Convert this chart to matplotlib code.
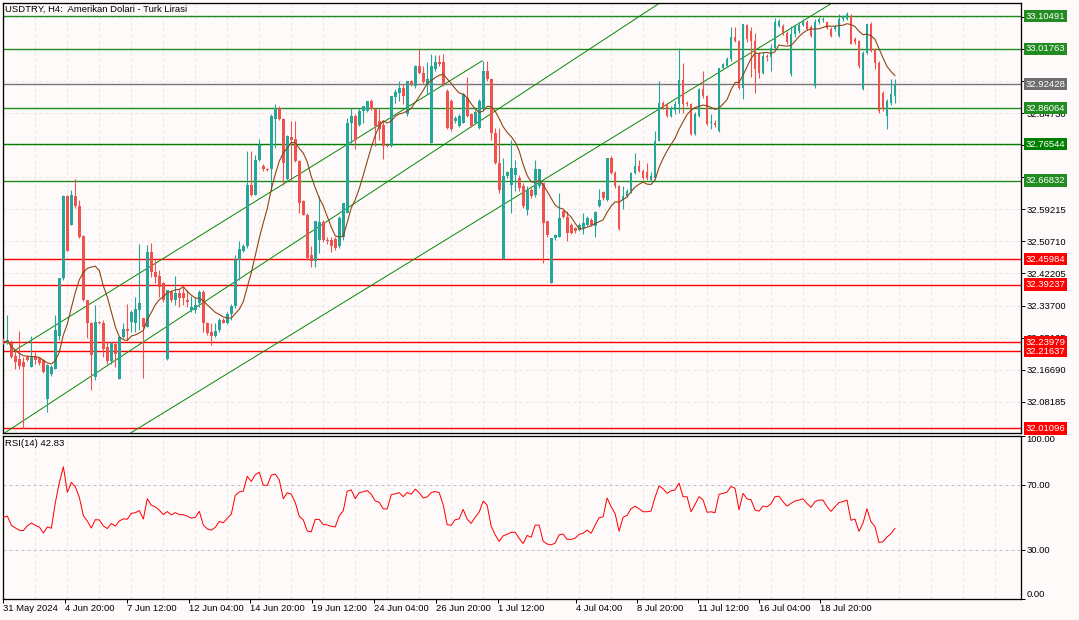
import numpy as np
import pandas as pd
import matplotlib
matplotlib.use("Agg")
import matplotlib.pyplot as plt
import matplotlib.transforms as mtransforms
from matplotlib.patches import Rectangle
from matplotlib.collections import PatchCollection

# ---------------- data ----------------
chart_title = "USDTRY, H4:  Amerikan Dolari - Turk Lirasi"

opens = [32.242, 32.238, 32.238, 32.203, 32.196, 32.188, 32.201, 32.175, 32.203, 32.197,
         32.192, 32.088, 32.155, 32.170, 32.256, 32.410, 32.627, 32.551, 32.627, 32.602,
         32.522, 32.352, 32.290, 32.148, 32.294, 32.290, 32.228, 32.190, 32.235, 32.143,
         32.254, 32.274, 32.294, 32.292, 32.325, 32.303, 32.281, 32.480, 32.427, 32.416,
         32.396, 32.194, 32.374, 32.352, 32.370, 32.371, 32.352, 32.325, 32.325, 32.343,
         32.374, 32.292, 32.268, 32.256, 32.272, 32.300, 32.292, 32.315, 32.335, 32.458,
         32.481, 32.494, 32.656, 32.631, 32.724, 32.708, 32.699, 32.698, 32.831, 32.862,
         32.833, 32.673, 32.784, 32.779, 32.720, 32.613, 32.578, 32.471, 32.454, 32.511,
         32.558, 32.511, 32.511, 32.513, 32.494, 32.520, 32.582, 32.822, 32.840, 32.817,
         32.853, 32.853, 32.880, 32.857, 32.826, 32.815, 32.762, 32.760, 32.891, 32.902,
         32.915, 32.844, 32.933, 32.919, 32.973, 32.955, 32.924, 32.769, 32.964, 32.982,
         32.982, 32.906, 32.880, 32.826, 32.813, 32.822, 32.888, 32.844, 32.822, 32.809,
         32.857, 32.959, 32.937, 32.795, 32.715, 32.460, 32.681, 32.658, 32.684, 32.676,
         32.653, 32.591, 32.644, 32.631, 32.653, 32.662, 32.560, 32.396, 32.516, 32.520,
         32.587, 32.573, 32.551, 32.543, 32.538, 32.542, 32.551, 32.565, 32.547, 32.600,
         32.637, 32.618, 32.729, 32.689, 32.653, 32.618, 32.627, 32.640, 32.689, 32.707,
         32.693, 32.690, 32.670, 32.676, 32.773, 32.875, 32.871, 32.840, 32.855, 32.871,
         32.934, 32.875, 32.872, 32.791, 32.840, 32.911, 32.893, 32.821, 32.822, 32.800,
         32.968, 32.973, 32.990, 33.050, 33.039, 32.915, 33.081, 33.066, 33.039, 33.004,
         32.955, 33.000, 32.995, 33.021, 33.079, 33.079, 33.061, 32.950, 33.057, 33.065,
         33.082, 33.090, 33.075, 32.919, 33.088, 33.093, 33.088, 33.070, 33.070, 33.052,
         33.097, 33.098, 33.106, 33.043, 33.039, 32.910, 33.008, 33.083, 33.017, 32.981,
         32.902, 32.840, 32.875, 32.893]
highs = [32.250, 32.312, 32.245, 32.219, 32.269, 32.201, 32.205, 32.256, 32.214, 32.200,
         32.195, 32.183, 32.179, 32.312, 32.410, 32.631, 32.631, 32.643, 32.673, 32.618,
         32.525, 32.352, 32.294, 32.339, 32.297, 32.299, 32.241, 32.241, 32.241, 32.254,
         32.290, 32.341, 32.325, 32.361, 32.501, 32.303, 32.498, 32.503, 32.458, 32.432,
         32.400, 32.378, 32.378, 32.416, 32.380, 32.387, 32.378, 32.362, 32.361, 32.378,
         32.378, 32.294, 32.290, 32.290, 32.305, 32.303, 32.320, 32.340, 32.470, 32.507,
         32.500, 32.747, 32.747, 32.737, 32.778, 32.712, 32.702, 32.844, 32.871, 32.865,
         32.835, 32.790, 32.826, 32.826, 32.722, 32.618, 32.582, 32.494, 32.560, 32.627,
         32.565, 32.520, 32.520, 32.520, 32.575, 32.609, 32.835, 32.862, 32.844, 32.860,
         32.866, 32.880, 32.884, 32.861, 32.857, 32.826, 32.765, 32.893, 32.910, 32.933,
         32.924, 32.933, 32.936, 32.975, 33.017, 32.973, 32.982, 33.004, 33.001, 33.001,
         33.004, 32.910, 32.884, 32.840, 32.845, 32.900, 32.942, 32.848, 32.855, 32.884,
         32.986, 32.986, 32.940, 32.808, 32.808, 32.729, 32.695, 32.777, 32.724, 32.684,
         32.662, 32.653, 32.648, 32.724, 32.700, 32.662, 32.562, 32.516, 32.528, 32.635,
         32.590, 32.587, 32.555, 32.546, 32.555, 32.582, 32.575, 32.570, 32.587, 32.645,
         32.642, 32.729, 32.733, 32.693, 32.656, 32.653, 32.645, 32.692, 32.742, 32.724,
         32.698, 32.715, 32.690, 32.800, 32.933, 32.880, 32.875, 32.866, 32.880, 33.021,
         32.981, 32.880, 32.875, 32.850, 32.913, 32.959, 32.896, 32.844, 32.830, 32.968,
         32.980, 32.995, 33.075, 33.075, 33.042, 33.085, 33.085, 33.075, 33.060, 33.010,
         33.010, 33.005, 33.030, 33.100, 33.097, 33.085, 33.065, 33.078, 33.080, 33.090,
         33.097, 33.095, 33.080, 33.098, 33.102, 33.103, 33.092, 33.075, 33.080, 33.110,
         33.108, 33.115, 33.110, 33.048, 33.042, 33.012, 33.085, 33.088, 33.020, 32.985,
         32.905, 32.885, 32.937, 32.939]
lows = [32.236, 32.235, 32.197, 32.170, 32.170, 32.013, 32.189, 32.175, 32.183, 32.180,
        32.158, 32.055, 32.150, 32.170, 32.245, 32.405, 32.483, 32.551, 32.596, 32.516,
        32.350, 32.250, 32.112, 32.139, 32.287, 32.201, 32.183, 32.183, 32.174, 32.141,
        32.250, 32.245, 32.268, 32.268, 32.272, 32.145, 32.281, 32.414, 32.396, 32.361,
        32.347, 32.192, 32.347, 32.339, 32.334, 32.339, 32.334, 32.321, 32.316, 32.334,
        32.268, 32.259, 32.232, 32.254, 32.268, 32.290, 32.288, 32.300, 32.330, 32.405,
        32.478, 32.489, 32.627, 32.631, 32.720, 32.695, 32.694, 32.640, 32.755, 32.828,
        32.658, 32.671, 32.671, 32.718, 32.582, 32.578, 32.458, 32.440, 32.440, 32.476,
        32.505, 32.500, 32.480, 32.485, 32.490, 32.510, 32.582, 32.768, 32.751, 32.812,
        32.822, 32.850, 32.855, 32.760, 32.777, 32.725, 32.757, 32.757, 32.875, 32.880,
        32.871, 32.840, 32.920, 32.915, 32.950, 32.925, 32.897, 32.769, 32.960, 32.972,
        32.920, 32.805, 32.800, 32.822, 32.810, 32.820, 32.836, 32.810, 32.818, 32.805,
        32.855, 32.932, 32.777, 32.712, 32.636, 32.460, 32.676, 32.582, 32.640, 32.640,
        32.596, 32.578, 32.622, 32.626, 32.650, 32.449, 32.520, 32.396, 32.512, 32.518,
        32.570, 32.507, 32.526, 32.530, 32.535, 32.528, 32.548, 32.548, 32.520, 32.598,
        32.618, 32.615, 32.686, 32.650, 32.538, 32.592, 32.624, 32.636, 32.686, 32.690,
        32.672, 32.670, 32.665, 32.672, 32.773, 32.858, 32.836, 32.836, 32.845, 32.848,
        32.848, 32.866, 32.789, 32.789, 32.836, 32.888, 32.817, 32.804, 32.810, 32.798,
        32.965, 32.970, 32.985, 33.035, 32.910, 32.884, 33.035, 32.942, 32.900, 32.940,
        32.950, 32.985, 32.960, 33.015, 33.075, 33.055, 33.030, 32.947, 33.050, 33.060,
        33.078, 33.068, 33.050, 32.915, 33.085, 33.088, 33.070, 33.048, 33.065, 33.050,
        33.092, 33.095, 33.030, 33.030, 32.968, 32.908, 33.005, 33.010, 32.964, 32.848,
        32.853, 32.804, 32.870, 32.875]
closes = [32.240, 32.245, 32.201, 32.188, 32.176, 32.175, 32.192, 32.201, 32.192, 32.185,
          32.161, 32.179, 32.174, 32.272, 32.410, 32.627, 32.483, 32.631, 32.600, 32.520,
          32.352, 32.290, 32.206, 32.294, 32.290, 32.221, 32.190, 32.237, 32.208, 32.254,
          32.274, 32.270, 32.321, 32.327, 32.345, 32.281, 32.480, 32.427, 32.414, 32.387,
          32.352, 32.378, 32.352, 32.371, 32.356, 32.356, 32.347, 32.334, 32.339, 32.374,
          32.292, 32.265, 32.256, 32.270, 32.300, 32.292, 32.315, 32.335, 32.458, 32.487,
          32.494, 32.656, 32.631, 32.724, 32.764, 32.698, 32.696, 32.841, 32.862, 32.831,
          32.715, 32.786, 32.777, 32.720, 32.609, 32.578, 32.463, 32.454, 32.560, 32.558,
          32.510, 32.507, 32.494, 32.489, 32.569, 32.609, 32.822, 32.840, 32.777, 32.853,
          32.866, 32.880, 32.857, 32.813, 32.804, 32.760, 32.760, 32.893, 32.903, 32.915,
          32.893, 32.933, 32.924, 32.973, 32.955, 32.929, 32.937, 32.973, 32.982, 32.977,
          32.924, 32.808, 32.804, 32.835, 32.840, 32.897, 32.840, 32.813, 32.849, 32.880,
          32.959, 32.937, 32.795, 32.715, 32.644, 32.680, 32.690, 32.702, 32.702, 32.649,
          32.600, 32.644, 32.627, 32.698, 32.698, 32.556, 32.525, 32.516, 32.525, 32.569,
          32.573, 32.529, 32.529, 32.534, 32.551, 32.556, 32.569, 32.551, 32.584, 32.618,
          32.622, 32.729, 32.689, 32.653, 32.540, 32.627, 32.640, 32.689, 32.707, 32.693,
          32.676, 32.676, 32.680, 32.773, 32.875, 32.862, 32.840, 32.862, 32.871, 32.934,
          32.871, 32.871, 32.791, 32.844, 32.911, 32.893, 32.819, 32.822, 32.817, 32.968,
          32.977, 32.990, 33.048, 33.039, 32.915, 33.083, 33.044, 33.039, 32.964, 32.955,
          33.000, 32.995, 33.021, 33.088, 33.092, 33.061, 33.035, 33.057, 33.075, 33.082,
          33.092, 33.070, 33.052, 33.088, 33.098, 33.098, 33.072, 33.052, 33.075, 33.097,
          33.103, 33.110, 33.030, 33.035, 32.973, 33.008, 33.083, 33.012, 32.981, 32.853,
          32.857, 32.880, 32.897, 32.924]

green_levels = [33.10491, 33.01763, 32.86064, 32.76544, 32.66832]
red_levels = [32.45984, 32.39237, 32.23979, 32.21637, 32.01096]
bid_level = 32.92428
price_ticks = [32.08185, 32.16690, 32.25195, 32.33700, 32.42205, 32.50710, 32.59215,
               32.67720, 32.76225, 32.84730, 32.93235, 33.01740, 33.10245]
# tick labels fully covered by the level boxes in the reference
hidden_ticks = [32.76225, 33.01740, 33.10245]
time_labels = ["31 May 2024", "4 Jun 20:00", "7 Jun 12:00", "12 Jun 04:00", "14 Jun 20:00",
               "19 Jun 12:00", "24 Jun 04:00", "26 Jun 20:00", "1 Jul 12:00", "4 Jul 04:00",
               "8 Jul 20:00", "11 Jul 12:00", "16 Jul 04:00", "18 Jul 20:00"]
time_label_bars = [0, 15.4, 30.8, 46.3, 61.8, 77.3, 92.8, 108.2, 123.7, 143.3,
                   158.6, 173.8, 189.1, 204.3]
# analyst trend lines: (bar, price) start and end
trend_lines = [((1.8, 32.211), (119.75, 32.986)),
               ((-1.0, 31.990), (170.0, 33.180)),
               ((31.8, 31.999), (212.0, 33.170))]
rsi_period = 14
rsi_display = 42.83
ma_period = 10
rsi_ticks = [100, 70, 30, 0]

# ---------------- styling ----------------
W, H, DPI = 1079, 620, 100
BG = "#FFFAFA"
BULL = "#26A69A"
BEAR = "#EF5350"
FONT = "Liberation Sans"
FS = 6.8
PX = 72.0 / DPI  # points per pixel

plt.rcParams["font.family"] = [FONT, "DejaVu Sans"]

fig = plt.figure(figsize=(W / DPI, H / DPI), dpi=DPI, facecolor=BG)


def rect(l, t, r, b):
    return [l / W, 1 - b / H, (r - l) / W, (b - t) / H]


ax = fig.add_axes(rect(3, 3, 1021.3, 432.7), facecolor=BG)
ax2 = fig.add_axes(rect(3, 435.5, 1021.3, 599), facecolor=BG, sharex=ax)

n = len(closes)
x = np.arange(n)
o = np.array(opens); h = np.array(highs); l = np.array(lows); c = np.array(closes)
up = c >= o

# grid
grid_bars = np.arange(8, 260, 8)
for a in (ax, ax2):
    for gx in grid_bars:
        a.axvline(gx, color="#E8E4E4", lw=1 * PX, dashes=(3, 3), zorder=0)
for py in price_ticks:
    ax.axhline(py, color="#E8E4E4", lw=1 * PX, dashes=(3, 3), zorder=0)

# levels
for lv in green_levels:
    col = "#008000" if abs(lv - 32.76544) < 1e-6 else "#1F8B1F"
    ax.axhline(lv, color=col, lw=1.4 * PX, zorder=1)
for lv in red_levels:
    ax.axhline(lv, color="#FF0000", lw=1.4 * PX, zorder=1)
ax.axhline(bid_level, color="#777777", lw=1.4 * PX, zorder=1)

# trend lines
for (x0, y0), (x1, y1) in trend_lines:
    ax.plot([x0, x1], [y0, y1], color="#0A8A0A", lw=1 * PX, zorder=2)

# candles
cols = [BULL if u else BEAR for u in up]
ax.vlines(x, l, h, colors=cols, lw=1.1 * PX, zorder=3)
bw = 0.7
rects = []
for i in range(n):
    bot = min(o[i], c[i])
    hgt = max(abs(c[i] - o[i]), 0.0028)
    rects.append(Rectangle((x[i] - bw / 2, bot), bw, hgt))
ax.add_collection(PatchCollection(rects, facecolors=cols, edgecolors="none", zorder=4))

# moving average of closes
ma = pd.Series(closes).rolling(ma_period, min_periods=1).mean()
ax.plot(x, ma, color="#8B4513", lw=1.1 * PX, zorder=5)

ax.set_xlim(-0.1, 254.6)
ax.set_ylim(31.9998, 33.1394)

# RSI (Wilder) of closes; averages seeded neutral at the window start
d = np.diff(c)
seed = np.mean(np.abs(d[:rsi_period])) / 2
ag, al = seed, seed
rsi = [50.0]
for dv in d:
    ag = (ag * (rsi_period - 1) + max(dv, 0)) / rsi_period
    al = (al * (rsi_period - 1) + max(-dv, 0)) / rsi_period
    rsi.append(100 - 100 / (1 + ag / al))
ax2.plot(x, rsi, color="#FF0000", lw=1 * PX, zorder=3)
for lv in (70, 30):
    ax2.axhline(lv, color="#C0C0C0", lw=1 * PX, dashes=(3, 3), zorder=1)
ax2.set_ylim(0, 100)

# spines
for a in (ax, ax2):
    for sp in a.spines.values():
        sp.set_color("black")
        sp.set_linewidth(1.3 * PX)

# y ticks main
ax.yaxis.tick_right()
ax.set_yticks(price_ticks)
ax.set_yticklabels(["" if any(abs(v - hv) < 1e-6 for hv in hidden_ticks) else f"{v:.5f}"
                    for v in price_ticks])
ax.tick_params(axis="y", direction="out", length=4 * PX, width=1 * PX, pad=1,
               labelsize=FS, colors="black")
ax.tick_params(axis="x", bottom=False, labelbottom=False)

# y ticks rsi
ax2.yaxis.tick_right()
ax2.set_yticks(rsi_ticks)
ax2.set_yticklabels([f"{v:.2f}" for v in rsi_ticks])
ax2.tick_params(axis="y", direction="out", length=4 * PX, width=1 * PX, pad=1,
                labelsize=FS, colors="black")
for lab in ax2.get_yticklabels():
    if lab.get_text() == "100.00":
        lab.set_va("top")
    elif lab.get_text() == "0.00":
        lab.set_va("bottom")

# x ticks
ax2.set_xticks(time_label_bars)
ax2.set_xticklabels(time_labels, ha="left")
ax2.tick_params(axis="x", direction="out", length=4 * PX, width=1 * PX, pad=0.5,
                labelsize=FS, colors="black")

# price labels on the right axis
off = mtransforms.ScaledTranslation(4 / DPI, 0, fig.dpi_scale_trans)
tr = mtransforms.blended_transform_factory(ax.transAxes, ax.transData) + off


def price_label(v, fc):
    ax.text(1.0, v, f"{v:.5f}", transform=tr, ha="left", va="center", color="white",
            fontsize=FS, zorder=10, clip_on=False,
            bbox=dict(boxstyle="square,pad=0.18", fc=fc, ec="none"))


for lv in green_levels:
    price_label(lv, "#008000" if abs(lv - 32.76544) < 1e-6 else "#228B22")
for lv in red_levels:
    price_label(lv, "#FF0000")
price_label(bid_level, "#6E6E6E")

# titles
ax.text(2 / 1018.3, 1 - 6 / 429.7, chart_title, transform=ax.transAxes, ha="left",
        va="center", fontsize=FS, color="black", zorder=10)
ax2.text(2 / 1018.3, 1 - 8.5 / 163.5, f"RSI({rsi_period}) {rsi_display:.2f}",
         transform=ax2.transAxes, ha="left", va="center", fontsize=FS, color="black",
         zorder=10)

fig.savefig("out.png", dpi=DPI, facecolor=BG)
